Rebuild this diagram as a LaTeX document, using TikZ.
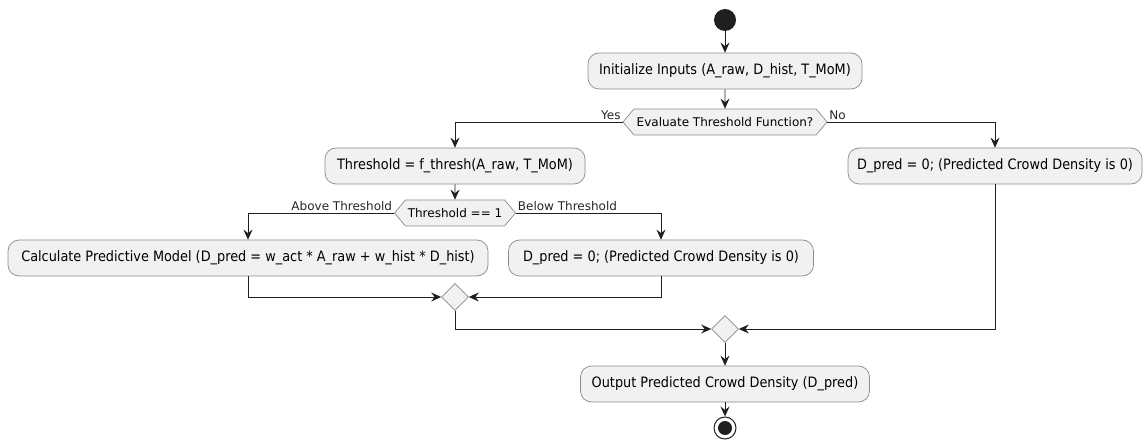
\documentclass[tikz,border=0pt]{standalone}
\usepackage{fontspec}
\setmainfont{DejaVu Sans}
\newfontfamily\boxfont{DejaVu Sans}[FakeStretch=0.9]
\usetikzlibrary{positioning,arrows.meta,shapes.symbols,shapes.geometric}
\definecolor{boxfill}{HTML}{F1F1F1}
\definecolor{boxline}{HTML}{8A8A8A}
\tikzset{action/.style={rectangle,rounded corners=11pt,draw=boxline,line width=0.7pt,fill=boxfill,minimum height=36pt,inner xsep=8pt,font=\boxfont\fontsize{14.3}{16}\selectfont},
	decision/.style={signal,signal to=west and east,signal pointer angle=100,draw=boxline,line width=0.7pt,fill=boxfill,minimum height=26pt,inner xsep=2pt,font=\fontsize{12}{14}\selectfont},
	merge/.style={diamond,draw=boxline,line width=0.7pt,fill=boxfill,minimum size=27pt,inner sep=0pt},
	flow/.style={draw=black!88,line width=0.9pt,-{Stealth[length=10pt,width=9pt,inset=3.5pt]}},
	tag/.style={font=\fontsize{12}{14}\selectfont,inner sep=1.5pt,text=black!85},
}

\begin{document}
\begin{tikzpicture}[x=1pt,y=-1pt]
	\useasboundingbox (0,0) rectangle (1147,443);
	\node[circle,fill=black!88,minimum size=22pt,inner sep=0pt] (start) at (725,20) {};
	\node[action,minimum width=274pt] (init) at (725,71) {Initialize Inputs (A\_raw, D\_hist, T\_MoM)};
	\node[decision,minimum width=204pt] (evalq) at (725,122) {Evaluate Threshold Function?};
	\node[action,minimum width=260pt] (thresh) at (455,166) {Threshold = f\_thresh(A\_raw, T\_MoM)};
	\node[action,minimum width=294pt] (dno) at (995,166) {D\_pred = 0; (Predicted Crowd Density is 0)};
	\node[decision,minimum width=121pt] (tcheck) at (455,213) {Threshold == 1};
	\node[action,minimum width=480pt] (calc) at (248,258) {Calculate Predictive Model (D\_pred = w\_act * A\_raw + w\_hist * D\_hist)};
	\node[action,minimum width=305pt] (dzero) at (661,258) {D\_pred = 0; (Predicted Crowd Density is 0)};
	\node[merge] (merge1) at (455,297) {};
	\node[merge] (merge2) at (725,329) {};
	\node[action,minimum width=289pt] (output) at (725,384) {Output Predicted Crowd Density (D\_pred)};
	\node[circle,draw=black!88,line width=1pt,fill=white,minimum size=22pt,inner sep=0pt] (stop) at (725,428) {};
	\node[circle,fill=black!88,minimum size=14pt,inner sep=0pt] (stopdot) at (stop) {};

	\draw[flow] (start) -- (init);
	\draw[flow] (init) -- (evalq);
	\draw[flow] (evalq.west) -| node[tag,pos=0,above left] (yes) {Yes} (thresh.north);
	\draw[flow] (evalq.east) -| node[tag,pos=0,above right] (no) {No} (dno.north);
	\draw[flow] (thresh) -- (tcheck);
	\draw[flow] (tcheck.west) -| node[tag,pos=0,above left] (above) {Above Threshold} (calc.north);
	\draw[flow] (tcheck.east) -| node[tag,pos=0,above right] (below) {Below Threshold} (dzero.north);
	\draw[flow] (calc.south) |- (merge1.west);
	\draw[flow] (dzero.south) |- (merge1.east);
	\draw[flow] (merge1.south) |- (merge2.west);
	\draw[flow] (dno.south) |- (merge2.east);
	\draw[flow] (merge2) -- (output);
	\draw[flow] (output) -- (stop);
\end{tikzpicture}
\end{document}
